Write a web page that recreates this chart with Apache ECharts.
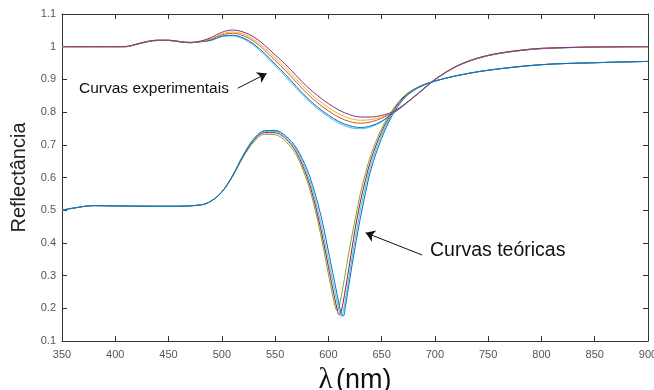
<!DOCTYPE html>
<html>
<head>
<meta charset="utf-8">
<script src="https://cdn.jsdelivr.net/npm/echarts@6/dist/echarts.min.js"></script>
<style>
html,body{margin:0;padding:0;background:#fff;}
#chart{width:654px;height:390px;}
</style>
</head>
<body>
<div id="chart"></div>
<script>
// ---- data ----
const xTicks = [350, 400, 450, 500, 550, 600, 650, 700, 750, 800, 850, 900];
const yTicks = [0.1, 0.2, 0.3, 0.4, 0.5, 0.6, 0.7, 0.8, 0.9, 1, 1.1];

// experimental curves (wavelength grid)
const wlExp = [350, 400, 410, 420, 430, 440, 450, 460, 470, 480, 490, 500, 510, 520, 530, 540, 550, 560, 570, 580, 590, 600, 610, 620, 630, 640, 650, 660, 670, 680, 690, 700, 720, 740, 760, 780, 800, 850, 900];
const expCyan   = [1.0, 1.0, 1.0, 1.007, 1.015, 1.019, 1.019, 1.015, 1.012, 1.015, 1.019, 1.031, 1.033, 1.024, 1.004, 0.975, 0.942, 0.908, 0.872, 0.839, 0.810, 0.786, 0.766, 0.753, 0.749, 0.755, 0.770, 0.794, 0.818, 0.845, 0.872, 0.899, 0.939, 0.964, 0.979, 0.988, 0.994, 0.999, 1.0];
const expBlue   = [1.0, 1.0, 1.0, 1.007, 1.015, 1.019, 1.019, 1.015, 1.012, 1.015, 1.020, 1.032, 1.035, 1.027, 1.008, 0.980, 0.947, 0.914, 0.878, 0.844, 0.815, 0.791, 0.771, 0.758, 0.753, 0.758, 0.772, 0.795, 0.819, 0.845, 0.872, 0.899, 0.939, 0.964, 0.979, 0.988, 0.994, 0.999, 1.0];
const expOrange = [1.0, 1.0, 1.0, 1.008, 1.016, 1.020, 1.020, 1.016, 1.013, 1.016, 1.023, 1.036, 1.041, 1.034, 1.017, 0.990, 0.958, 0.926, 0.891, 0.857, 0.828, 0.804, 0.784, 0.771, 0.766, 0.770, 0.781, 0.798, 0.820, 0.846, 0.873, 0.900, 0.940, 0.965, 0.980, 0.989, 0.995, 0.999, 1.0];
const expYellow = [1.0, 1.0, 1.0, 1.008, 1.016, 1.020, 1.020, 1.016, 1.013, 1.017, 1.025, 1.039, 1.045, 1.039, 1.023, 0.997, 0.966, 0.935, 0.900, 0.867, 0.838, 0.814, 0.794, 0.781, 0.775, 0.777, 0.785, 0.800, 0.820, 0.846, 0.873, 0.900, 0.940, 0.965, 0.980, 0.989, 0.995, 0.999, 1.0];
const expPurple = [1.0, 1.0, 1.001, 1.008, 1.016, 1.020, 1.020, 1.016, 1.013, 1.017, 1.028, 1.044, 1.051, 1.045, 1.030, 1.005, 0.975, 0.945, 0.911, 0.878, 0.850, 0.826, 0.806, 0.792, 0.785, 0.785, 0.790, 0.800, 0.820, 0.846, 0.873, 0.900, 0.940, 0.965, 0.980, 0.989, 0.995, 0.999, 1.0];

// theoretical curves
const wlTeo = [350, 360, 380, 400, 450, 480, 490, 500, 510, 520, 530, 540, 550, 560, 570, 580, 585, 590, 595, 600, 602, 604, 606, 608, 610, 612, 614, 616, 618, 620, 625, 630, 635, 640, 650, 660, 670, 680, 690, 700, 720, 750, 800, 850, 900];
const teoGreen   = [0.500, 0.506, 0.514, 0.513, 0.512, 0.516, 0.528, 0.555, 0.602, 0.662, 0.708, 0.732, 0.731, 0.710, 0.668, 0.590, 0.535, 0.468, 0.390, 0.305, 0.272, 0.240, 0.210, 0.193, 0.205, 0.235, 0.270, 0.308, 0.347, 0.385, 0.470, 0.550, 0.615, 0.670, 0.750, 0.805, 0.846, 0.870, 0.885, 0.895, 0.911, 0.928, 0.945, 0.951, 0.955];
const teoRed     = [0.500, 0.506, 0.514, 0.513, 0.512, 0.516, 0.528, 0.556, 0.604, 0.665, 0.713, 0.737, 0.737, 0.718, 0.677, 0.602, 0.550, 0.485, 0.410, 0.328, 0.295, 0.262, 0.230, 0.200, 0.180, 0.190, 0.220, 0.258, 0.297, 0.338, 0.440, 0.525, 0.595, 0.655, 0.740, 0.800, 0.843, 0.868, 0.884, 0.895, 0.911, 0.928, 0.945, 0.951, 0.955];
const teoCyan    = [0.500, 0.506, 0.514, 0.513, 0.512, 0.516, 0.528, 0.556, 0.605, 0.667, 0.716, 0.741, 0.741, 0.723, 0.684, 0.613, 0.563, 0.502, 0.430, 0.350, 0.318, 0.285, 0.253, 0.222, 0.193, 0.175, 0.190, 0.228, 0.268, 0.310, 0.410, 0.500, 0.575, 0.640, 0.730, 0.795, 0.840, 0.867, 0.884, 0.895, 0.911, 0.928, 0.945, 0.951, 0.955];
const teoBlue    = [0.500, 0.506, 0.514, 0.513, 0.512, 0.516, 0.528, 0.556, 0.605, 0.668, 0.718, 0.743, 0.744, 0.727, 0.690, 0.625, 0.578, 0.522, 0.455, 0.375, 0.343, 0.310, 0.278, 0.245, 0.213, 0.185, 0.176, 0.205, 0.245, 0.287, 0.385, 0.475, 0.555, 0.625, 0.720, 0.790, 0.838, 0.866, 0.883, 0.895, 0.911, 0.928, 0.945, 0.951, 0.955];

// annotation anchors (data coordinates)
const arrowExp = [[515, 0.873], [542, 0.918]];
const arrowTeo = [[688, 0.363], [635, 0.431]];

// ---- chart ----
const FONT = "'Liberation Sans', Arial, sans-serif";
const AX = '#333333';
const LBL = '#555555';

function pairs(xs, ys) { return xs.map((x, i) => [x, ys[i]]); }
function fmtY(v) { return String(Math.round(v * 10) / 10); }

function line(name, xs, ys, color, extra) {
  return Object.assign({
    name: name, type: 'line', data: pairs(xs, ys),
    showSymbol: false, symbol: 'none', smooth: 0.35,
    lineStyle: { color: color, width: 1 }, itemStyle: { color: color },
    silent: true, animation: false, z: 2
  }, extra || {});
}

const series = [
  line('teoGreen', wlTeo, teoGreen, '#77AC30'),
  line('teoRed', wlTeo, teoRed, '#A2142F'),
  line('teoCyan', wlTeo, teoCyan, '#4DBEEE'),
  line('teoBlue', wlTeo, teoBlue, '#0072BD'),
  line('expCyan', wlExp, expCyan, '#4DBEEE'),
  line('expBlue', wlExp, expBlue, '#0072BD'),
  line('expOrange', wlExp, expOrange, '#D95319'),
  line('expYellow', wlExp, expYellow, '#EDB120'),
  line('expPurple', wlExp, expPurple, '#7E2F8E', {
    markLine: {
      silent: true, animation: false, symbol: ['none', 'arrow'], symbolSize: 9,
      label: { show: false },
      lineStyle: { color: '#111', width: 1, type: 'solid' },
      data: [
        [{ coord: arrowExp[0] }, { coord: arrowExp[1] }],
        [{ coord: arrowTeo[0] }, { coord: arrowTeo[1] }]
      ]
    }
  })
];

const chart = echarts.init(document.getElementById('chart'), null, { renderer: 'canvas' });

const baseX = {
  type: 'value', min: xTicks[0], max: xTicks[xTicks.length - 1], interval: 50,
  splitLine: { show: false },
  axisLine: { show: true, onZero: false, lineStyle: { color: AX, width: 1 } },
  axisTick: { show: true, inside: true, length: 5, lineStyle: { color: AX } }
};
const baseY = {
  type: 'value', min: yTicks[0], max: yTicks[yTicks.length - 1], interval: 0.1,
  splitLine: { show: false },
  axisLine: { show: true, onZero: false, lineStyle: { color: AX, width: 1 } },
  axisTick: { show: true, inside: true, length: 5, lineStyle: { color: AX } }
};

chart.setOption({
  backgroundColor: '#ffffff',
  animation: false,
  grid: { left: 62, right: 6, top: 14, bottom: 49, containLabel: false, outerBoundsMode: 'none' },
  xAxis: [
    Object.assign({}, baseX, {
      position: 'bottom',
      axisLabel: { color: LBL, fontSize: 11, fontFamily: FONT, margin: 8 },
      name: '{l|λ} {t|(nm)}', nameLocation: 'middle', nameGap: 25,
      nameTextStyle: {
        verticalAlign: 'top',
        rich: {
          l: { fontFamily: "'Liberation Serif', 'DejaVu Serif', serif", fontSize: 29, color: '#111' },
          t: { fontFamily: FONT, fontSize: 27, color: '#111' }
        }
      }
    }),
    Object.assign({}, baseX, { position: 'top', axisLabel: { show: false } })
  ],
  yAxis: [
    Object.assign({}, baseY, {
      position: 'left',
      axisLabel: { color: LBL, fontSize: 11, fontFamily: FONT, margin: 6, formatter: fmtY },
      name: 'Reflectância', nameLocation: 'middle', nameGap: 27,
      nameTextStyle: { fontFamily: FONT, fontSize: 20, color: '#222' }
    }),
    Object.assign({}, baseY, { position: 'right', axisLabel: { show: false } })
  ],
  graphic: [
    { type: 'text', left: 79, top: 81, silent: true,
      style: { text: 'Curvas experimentais', fontFamily: FONT, fontSize: 15.5, fill: '#111' } },
    { type: 'text', left: 430, top: 241, silent: true,
      style: { text: 'Curvas teóricas', fontFamily: FONT, fontSize: 19.5, fill: '#111' } }
  ],
  series: series
});
</script>
</body>
</html>
